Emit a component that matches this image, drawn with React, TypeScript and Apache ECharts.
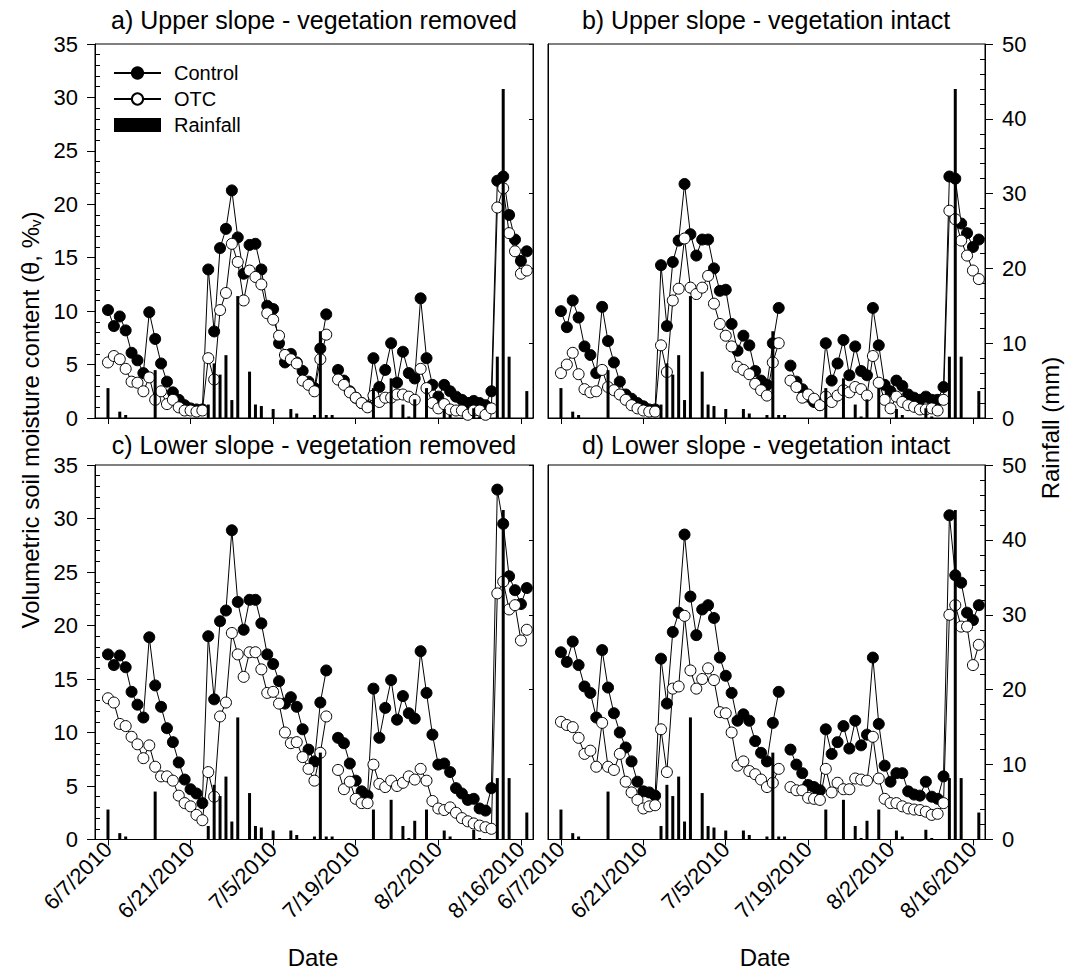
import React, { useEffect, useRef } from 'react';
import * as echarts from 'echarts';

const FONT = '"Liberation Sans", Arial, Helvetica, sans-serif';

// Daily sampling dates: 6/7/2010 .. 8/17/2010
const firstDate = '6/7/2010';
const dayCount = 72;
const tickDates = ['6/7/2010', '6/21/2010', '7/5/2010', '7/19/2010', '8/2/2010', '8/16/2010'];

const panelTitles = [
  'a) Upper slope - vegetation removed',
  'b) Upper slope - vegetation intact',
  'c) Lower slope - vegetation removed',
  'd) Lower slope - vegetation intact',
];

// Rainfall (mm), same record in all four panels
const rainfall = [
  4.0, 0, 0.85, 0.4, 0, 0, 0, 0, 6.4, 0,
  0, 0, 0, 0, 0, 0, 0, 1.8, 7.3, 5.8,
  8.4, 2.4, 16.3, 0, 6.2, 1.8, 1.6, 0, 1.2, 0,
  0, 1.2, 0.6, 0, 0, 0.4, 11.6, 0.4, 0.4, 0,
  0, 0, 0, 0, 0, 4.0, 0, 0, 5.3, 0,
  1.8, 0.2, 2.5, 0, 4.0, 0, 0, 1.2, 0.4, 0,
  0, 0, 1.3, 0.2, 0, 0, 8.2, 44.0, 8.2, 0,
  0, 3.6,
];

const aControl = [
  10.1, 8.6, 9.5, 8.2, 6.1, 5.4, 4.2, 9.9, 7.4, 5.1,
  3.4, 2.4, 1.7, 1.2, 0.9, 0.8, 0.8, 13.9, 8.1, 15.9,
  17.7, 21.3, 16.9, 13.5, 16.2, 16.3, 13.9, 10.5, 10.2, 7.0,
  5.2, 6.0, 5.2, 4.4, 3.4, 2.8, 6.5, 9.7, null, 4.5,
  3.5, 2.5, 1.9, 1.4, 1.1, 5.6, 2.9, 4.5, 7.0, 3.3,
  6.2, 4.2, 3.7, 11.2, 5.6, 3.1, 2.0, 3.1, 2.5, 2.0,
  1.7, 1.4, 1.6, 1.4, 1.2, 2.5, 22.2, 22.6, 19.0, 16.7,
  14.7, 15.6,
];
const aOTC = [
  5.2, 5.8, 5.5, 4.6, 3.4, 3.3, 2.5, 3.8, 1.7, 2.5,
  1.3, 1.7, 1.0, 0.7, 0.7, 0.6, 0.7, 5.6, 3.6, 10.1,
  11.7, 16.3, 14.6, 11.0, 13.8, 13.2, 12.5, 9.8, 9.2, 7.7,
  5.9, 5.5, 5.1, 3.5, 3.1, 2.5, 5.5, 7.8, null, 3.6,
  3.1, 2.4, 1.9, 1.4, 1.0, 2.1, 1.5, 1.9, 1.9, 2.2,
  2.2, 2.0, 1.7, 4.6, 2.8, 1.4, 0.9, 1.3, 0.8, 0.7,
  0.7, 0.3, 0.7, 0.7, 0.3, 0.9, 19.7, 21.5, 17.3, 15.6,
  13.5, 13.8,
];
const bControl = [
  10.0, 8.5, 11.0, 9.4, 6.7, 5.9, 4.2, 10.4, 7.2, 5.2,
  3.4, 2.2, 1.8, 1.4, 1.1, 0.8, 0.8, 14.3, 8.6, 14.6,
  16.6, 21.9, 17.2, 15.2, 16.7, 16.7, 14.0, 11.9, 12.0, 8.8,
  6.3, 7.7, 6.8, 4.4, 3.5, 3.1, 7.0, 10.3, null, 4.9,
  3.4, 2.7, 2.0, 1.5, 1.2, 7.0, 3.5, 5.1, 7.3, 4.0,
  6.7, 4.4, 4.0, 10.3, 6.8, 3.1, 2.5, 3.5, 3.0, 2.2,
  1.9, 1.7, 2.0, 1.7, 1.7, 2.9, 22.6, 22.4, 18.2, 17.3,
  16.0, 16.7,
];
const bOTC = [
  4.2, 5.0, 6.1, 4.1, 2.7, 2.4, 2.5, 4.5, 2.9, 2.6,
  2.2, 1.7, 1.2, 0.9, 0.7, 0.6, 0.6, 6.8, 4.3, 11.0,
  12.1, 16.8, 12.2, 11.6, 12.2, 13.3, 10.7, 8.8, 7.7, 6.7,
  4.8, 4.5, 4.1, 3.2, 2.6, 2.1, 5.2, 7.0, null, 3.5,
  2.9, 1.9, 2.2, 1.8, 1.2, 2.0, 1.5, 2.1, 2.6, 2.4,
  2.9, 2.7, 2.1, 5.8, 3.3, 1.7, 0.9, 2.0, 1.5, 1.2,
  1.05, 0.8, 0.8, 0.9, 0.7, 1.7, 19.4, 18.6, 16.6, 15.2,
  13.8, 13.0,
];
const cControl = [
  17.3, 16.3, 17.2, 16.1, 13.8, 12.6, 11.4, 18.9, 14.4, 12.4,
  10.4, 9.1, 7.2, 5.6, 4.7, 4.3, 3.4, 19.0, 13.1, 20.4,
  21.4, 28.9, 22.2, 19.6, 22.4, 22.4, 20.2, 17.3, 16.4, 14.8,
  12.7, 13.3, 12.4, 10.3, 8.4, 7.3, 12.8, 15.8, null, 9.5,
  9.0, 7.1, 5.5, 4.5, 4.1, 14.1, 9.5, 12.3, 14.9, 11.2,
  13.4, 11.8, 11.3, 17.6, 13.7, 9.8, 7.0, 7.1, 6.3, 4.8,
  4.3, 3.7, 3.8, 2.9, 2.7, 4.8, 32.7, 29.5, 24.6, 23.3,
  22.0, 23.5,
];
const cOTC = [
  13.2, 12.8, 10.8, 10.6, 9.6, 8.9, 7.6, 8.8, 6.8, 5.9,
  5.9, 5.5, 4.1, 3.4, 3.1, 2.3, 1.8, 6.3, 4.0, 11.5,
  12.8, 19.3, 17.3, 15.2, 17.5, 17.5, 15.9, 13.7, 13.8, 12.7,
  10.0, 9.0, 9.1, 7.7, 6.6, 5.5, 8.1, 11.5, null, 6.5,
  4.7, 5.4, 3.8, 3.4, 3.4, 7.0, 5.2, 4.9, 5.5, 5.0,
  5.3, 5.9, 5.6, 6.6, 5.5, 3.6, 2.9, 2.75, 3.0, 2.5,
  2.0, 1.7, 1.5, 1.3, 1.15, 1.0, 23.0, 24.1, 21.5, 21.9,
  18.6, 19.6,
];
const dControl = [
  17.5, 16.6, 18.5, 16.3, 14.3, 13.7, 11.4, 17.7, 14.2, 11.8,
  10.0, 8.6, 7.3, 5.4, 4.5, 4.4, 4.1, 16.9, 12.7, 19.4,
  21.2, 28.5, 22.7, 19.1, 21.5, 21.9, 20.7, 17.0, 15.3, 13.7,
  11.1, 11.7, 11.1, 9.2, 8.1, 7.3, 10.9, 13.8, null, 8.4,
  7.0, 6.2, 5.1, 4.9, 4.6, 10.3, 8.0, 9.1, 10.6, 8.5,
  11.1, 8.8, 9.8, 17.0, 10.8, 6.9, 5.4, 6.2, 6.2, 4.5,
  4.2, 4.1, 5.4, 4.0, 3.8, 5.9, 30.3, 24.7, 24.0, 21.2,
  20.5, 21.9,
];
const dOTC = [
  11.0, 10.7, 10.5, 9.5, 8.0, 8.3, 6.8, 10.9, 6.8, 6.5,
  8.0, 5.4, 4.4, 3.7, 2.9, 3.1, 3.2, 10.3, 6.3, 14.1,
  14.3, 20.9, 15.8, 14.1, 15.0, 16.0, 14.9, 11.9, 11.8, 10.0,
  6.9, 7.3, 6.4, 6.1, 5.6, 4.9, 5.3, 6.6, null, 4.9,
  4.6, 4.6, 3.9, 3.8, 3.7, 6.6, 4.4, 5.3, 4.7, 4.7,
  5.7, 5.6, 5.5, 9.6, 5.7, 3.8, 3.4, 3.4, 3.1, 2.9,
  2.8, 2.75, 2.6, 2.3, 2.4, 3.4, 21.0, 21.9, 19.9, 19.9,
  16.3, 18.2,
];

const controlSets = [aControl, bControl, cControl, dControl];
const otcSets = [aOTC, bOTC, cOTC, dOTC];

function parseDate(s: string): number {
  const [m, d, y] = s.split('/').map(Number);
  return Date.UTC(y, m - 1, d);
}
const T0 = parseDate(firstDate);
const DAY = 86400000;
function dayOf(s: string): number {
  return Math.round((parseDate(s) - T0) / DAY);
}
function fmtDate(t: number): string {
  const dt = new Date(t);
  return `${dt.getUTCMonth() + 1}/${dt.getUTCDate()}/${dt.getUTCFullYear()}`;
}
const dates: string[] = Array.from({ length: dayCount }, (_, i) => fmtDate(T0 + i * DAY));
const tickDays = tickDates.map(dayOf);

const X_MIN = -2.2;
const X_MAX = 72.05;

const grids = [
  { left: 95, top: 44, width: 438, height: 374 },
  { left: 548, top: 44, width: 437, height: 374 },
  { left: 95, top: 465, width: 438, height: 374.5 },
  { left: 548, top: 465, width: 437, height: 374.5 },
];

function buildOption(): any {
  const black = '#000';
  const xAxis = grids.map((_, i) => ({
    type: 'value',
    gridIndex: i,
    min: X_MIN,
    max: X_MAX,
    axisLine: { show: true, onZero: false, lineStyle: { color: black, width: 1 } },
    axisTick: { show: true, length: 6, customValues: tickDays, lineStyle: { color: black, width: 1 } },
    axisLabel: {
      show: i >= 2,
      customValues: tickDays,
      rotate: 45,
      margin: 6,
      fontSize: 22,
      fontFamily: FONT,
      color: black,
      formatter: (v: number) => {
        const k = tickDays.indexOf(Math.round(v));
        return k >= 0 ? tickDates[k] : '';
      },
    },
    splitLine: { show: false },
  }));

  const leftY = grids.map((_, i) => {
    const isLeft = i % 2 === 0;
    return {
      type: 'value',
      gridIndex: i,
      position: 'left',
      min: 0,
      max: 35,
      interval: 5,
      axisLine: { show: true, onZero: false, lineStyle: { color: black, width: 1 } },
      axisTick: { show: isLeft, length: 8, lineStyle: { color: black, width: 1 } },
      minorTick: { show: isLeft, splitNumber: 5, length: -5, lineStyle: { color: black, width: 1 } },
      axisLabel: { show: isLeft, margin: 17, fontSize: 22, fontFamily: FONT, color: black },
      splitLine: { show: false },
    };
  });

  const rightY = grids.map((_, i) => {
    const isRight = i % 2 === 1;
    return {
      type: 'value',
      gridIndex: i,
      position: 'right',
      min: 0,
      max: 50,
      interval: 10,
      axisLine: { show: true, onZero: false, lineStyle: { color: black, width: 1 } },
      axisTick: { show: true, inside: !isRight, length: isRight ? 8 : 4, lineStyle: { color: black, width: 1 } },
      minorTick: { show: isRight, splitNumber: 5, length: -5, lineStyle: { color: black, width: 1 } },
      axisLabel: { show: isRight, margin: 17, fontSize: 22, fontFamily: FONT, color: black },
      splitLine: { show: false },
    };
  });

  const series: any[] = [];
  grids.forEach((_, i) => {
    series.push({
      name: 'Control',
      type: 'line',
      xAxisIndex: i,
      yAxisIndex: i,
      data: dates.map((d, k) => [dayOf(d), controlSets[i][k] == null ? '-' : controlSets[i][k]]),
      connectNulls: false,
      symbol: 'circle',
      symbolSize: 11,
      lineStyle: { color: black, width: 1 },
      itemStyle: { color: black, borderColor: black, borderWidth: 1 },
      z: 2,
    });
    series.push({
      name: 'OTC',
      type: 'line',
      xAxisIndex: i,
      yAxisIndex: i,
      data: dates.map((d, k) => [dayOf(d), otcSets[i][k] == null ? '-' : otcSets[i][k]]),
      connectNulls: false,
      symbol: 'circle',
      symbolSize: 11,
      lineStyle: { color: black, width: 1 },
      itemStyle: { color: '#fff', borderColor: black, borderWidth: 1 },
      z: 3,
    });
    series.push({
      name: 'Rainfall',
      type: 'bar',
      xAxisIndex: i,
      yAxisIndex: 4 + i,
      barWidth: 3,
      data: dates
        .map((d, k) => (rainfall[k] > 0 ? [dayOf(d), rainfall[k]] : null))
        .filter((p) => p !== null),
      itemStyle: { color: black },
      z: 4,
    });
  });

  const txt = (text: string, x: number, y: number, size: number, rotation = 0, extra: any = {}) => ({
    type: 'text',
    x,
    y,
    rotation,
    style: {
      text,
      fill: black,
      fontSize: size,
      fontFamily: FONT,
      textAlign: 'center',
      textVerticalAlign: 'middle',
      ...extra,
    },
  });

  const graphic: any[] = [
    txt(panelTitles[0], 314, 20, 25),
    txt(panelTitles[1], 766, 20, 25),
    txt(panelTitles[2], 314, 445, 25),
    txt(panelTitles[3], 766, 445, 25),
    txt('Date', 313, 957, 24),
    txt('Date', 765, 957, 24),
    txt('Rainfall (mm)', 1050, 428, 24, Math.PI / 2),
    txt('{a|Volumetric soil moisture content (θ, %}{s|v}{a|)}', 30, 420, 24, Math.PI / 2, {
      rich: {
        a: { fontSize: 24, fontFamily: FONT, fill: black, lineHeight: 26 },
        s: { fontSize: 15, fontFamily: FONT, fill: black, lineHeight: 8, verticalAlign: 'bottom' },
      },
    }),
  ];

  return {
    animation: false,
    backgroundColor: '#fff',
    grid: grids.map((g) => ({ ...g, show: true, borderColor: black, borderWidth: 1, backgroundColor: 'transparent', containLabel: false, outerBoundsMode: 'none' })),
    xAxis,
    yAxis: [...leftY, ...rightY],
    legend: {
      orient: 'vertical',
      left: 113,
      top: 63,
      padding: 0,
      itemWidth: 47,
      itemHeight: 14,
      itemGap: 6,
      selectedMode: false,
      textStyle: { fontSize: 20, fontFamily: FONT, color: black, lineHeight: 20, padding: [0, 0, 0, 8] },
      data: [{ name: 'Control' }, { name: 'OTC' }, { name: 'Rainfall', icon: 'rect' }],
    },
    series,
    graphic,
  };
}

export default function App() {
  const ref = useRef<HTMLDivElement>(null);
  useEffect(() => {
    if (!ref.current) return;
    const chart = echarts.init(ref.current, null, { renderer: 'svg' });
    chart.setOption(buildOption());
    return () => chart.dispose();
  }, []);
  return (
    <div
      ref={ref}
      style={{ position: 'fixed', left: 0, top: 0, width: 1067, height: 971, background: '#fff' }}
    />
  );
}
